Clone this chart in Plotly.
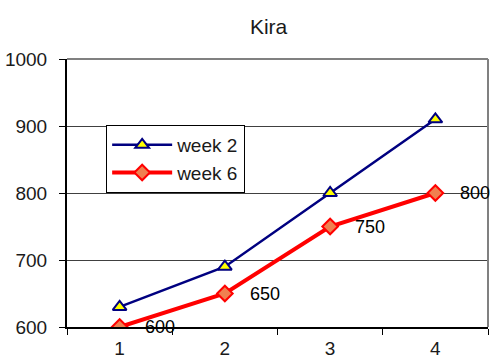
import plotly.graph_objects as go

# Weekly scores for Kira
categories = ["1", "2", "3", "4"]
week2 = [630, 690, 800, 910]
week6 = [600, 650, 750, 800]
y_ticks = [600, 700, 800, 900, 1000]

FONT = "Liberation Sans, Arial, sans-serif"
TEXT = "#1a1a1a"

fig = go.Figure()

fig.add_trace(go.Scatter(
    x=categories, y=week2, name="week 2", mode="lines+markers",
    line=dict(color="#000080", width=2.5),
    marker=dict(symbol="triangle-up", size=12, color="#FFFF00",
                line=dict(color="#000080", width=2)),
))

fig.add_trace(go.Scatter(
    x=categories, y=week6, name="week 6", mode="lines+markers",
    line=dict(color="#FF0000", width=4),
    marker=dict(symbol="diamond", size=12, color="#F08050",
                line=dict(color="#FF0000", width=2)),
))

# Value labels for week 6, placed to the right of each point
# (category axes position annotations by category index)
for i, v in enumerate(week6):
    fig.add_annotation(
        x=i, y=v, text=str(v), showarrow=False,
        xanchor="left", yanchor="middle", xshift=23,
        font=dict(family=FONT, size=18, color="#000000"),
    )

# Grey frame on the top and right of the plotting area
fig.add_shape(type="line", xref="paper", yref="paper", x0=0, x1=1, y0=1, y1=1,
              line=dict(color="#808080", width=2), layer="above")
fig.add_shape(type="line", xref="paper", yref="paper", x0=1, x1=1, y0=0, y1=1,
              line=dict(color="#808080", width=2), layer="above")

fig.update_layout(
    width=491, height=360,
    margin=dict(l=67, r=3, t=59, b=33, autoexpand=False),
    paper_bgcolor="white", plot_bgcolor="white",
    font=dict(family=FONT, size=19, color=TEXT),
    title=dict(text="Kira", x=0.547, xanchor="center", y=0.925, yanchor="middle",
               font=dict(family=FONT, size=21, color=TEXT)),
    showlegend=True,
    legend=dict(
        x=0.093, y=0.754, xanchor="left", yanchor="top",
        bgcolor="white", bordercolor="#000000", borderwidth=1,
        font=dict(family=FONT, size=19, color=TEXT),
        tracegroupgap=0, itemwidth=60,
    ),
    xaxis=dict(
        type="category", categoryorder="array", categoryarray=categories,
        range=[-0.5, 3.5], tickson="boundaries", automargin=False,
        ticks="outside", ticklen=6, tickcolor="#000000", tickwidth=1,
        showline=True, linecolor="#000000", linewidth=2,
        showgrid=False, zeroline=False, ticklabelstandoff=3,
    ),
    yaxis=dict(
        range=[600, 1000], tickvals=y_ticks, automargin=False,
        ticks="outside", ticklen=6, tickcolor="#000000", tickwidth=1,
        showline=True, linecolor="#000000", linewidth=2,
        showgrid=True, gridcolor="#404040", gridwidth=1,
        zeroline=False, ticklabelstandoff=8,
    ),
)

fig.write_html("out.html")
